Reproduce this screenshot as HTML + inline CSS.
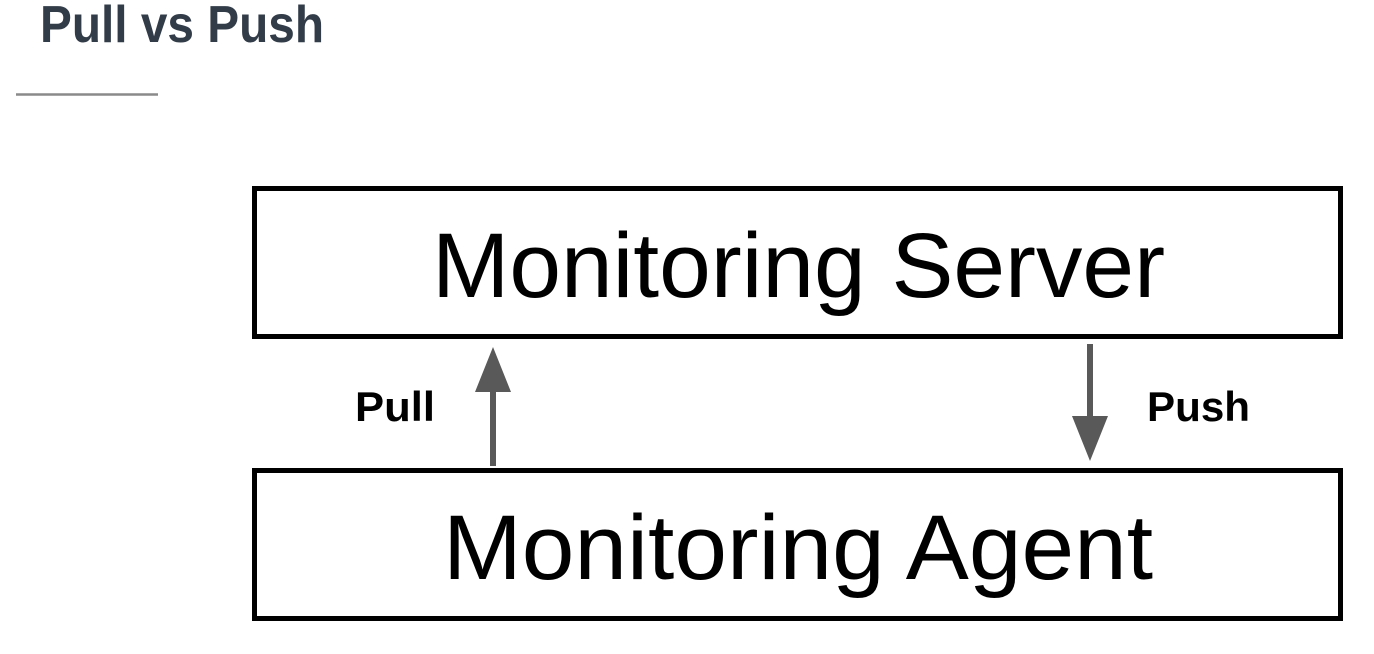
<!DOCTYPE html>
<html><head><style>
html,body{margin:0;padding:0;background:#fff;width:1374px;height:654px;overflow:hidden;position:relative;font-family:"Liberation Sans",sans-serif}
</style></head><body>
<svg width="1374" height="654" style="position:absolute;left:0;top:0">
<text x="40" y="42" font-family="Liberation Sans, sans-serif" font-weight="bold" font-size="52" fill="#323c48" textLength="284" lengthAdjust="spacingAndGlyphs">Pull vs Push</text>
<line x1="16" y1="94.5" x2="158" y2="94.5" stroke="#8a8a8a" stroke-width="2.5"/>
<rect x="254.5" y="188.5" width="1086" height="148" fill="#fff" stroke="#000" stroke-width="5"/>
<rect x="254.5" y="470.5" width="1086" height="148" fill="#fff" stroke="#000" stroke-width="5"/>
<text x="432" y="297" font-family="Liberation Sans, sans-serif" font-size="92" fill="#000" textLength="733" lengthAdjust="spacingAndGlyphs">Monitoring Server</text>
<text x="443" y="579" font-family="Liberation Sans, sans-serif" font-size="92" fill="#000" textLength="710" lengthAdjust="spacingAndGlyphs">Monitoring Agent</text>
<line x1="493" y1="466" x2="493" y2="390" stroke="#595959" stroke-width="6"/>
<polygon points="475,392 511,392 493,347" fill="#595959"/>
<line x1="1090" y1="344" x2="1090" y2="418" stroke="#595959" stroke-width="6"/>
<polygon points="1072,416 1108,416 1090,461" fill="#595959"/>
<text x="355" y="421" font-family="Liberation Sans, sans-serif" font-weight="bold" font-size="42" fill="#000" textLength="80" lengthAdjust="spacingAndGlyphs">Pull</text>
<text x="1147" y="421" font-family="Liberation Sans, sans-serif" font-weight="bold" font-size="42" fill="#000" textLength="103" lengthAdjust="spacingAndGlyphs">Push</text>
</svg>
</body></html>
